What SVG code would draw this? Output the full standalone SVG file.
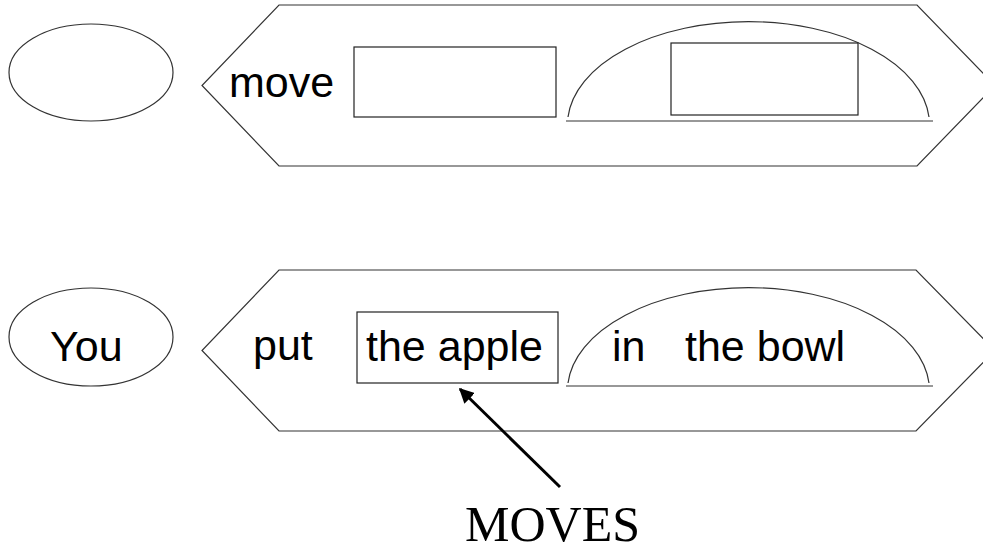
<svg xmlns="http://www.w3.org/2000/svg" width="983" height="551" viewBox="0 0 983 551">
<defs>
<style>
.sh{fill:none;stroke:#333;stroke-width:1.2}
.bx{fill:none;stroke:#222;stroke-width:1.2}
.t{font-family:"Liberation Sans",Arial,sans-serif;font-size:43px;fill:#000}
.m{font-family:"Liberation Serif","Times New Roman",serif;font-size:50px;fill:#000}
</style>
<marker id="ah" viewBox="0 0 10 10" refX="9" refY="5" markerWidth="5" markerHeight="5" orient="auto" markerUnits="strokeWidth">
<path d="M0,0 L10,5 L0,10 Z" fill="#000"/>
</marker>
</defs>
<rect width="983" height="551" fill="#fff"/>
<g id="subject-top"><ellipse class="sh" cx="91" cy="72.5" rx="82" ry="48.5"/></g>
<g id="predicate-top">
<polygon class="sh" points="279,5 917,5 995,85.5 917,166 279,166 202,85.5"/>
<text class="t" x="229" y="97">move</text>
</g>
<g id="object-top"><rect class="bx" x="354" y="47" width="202" height="70"/></g>
<g id="location-top">
<path class="sh" d="M568,117 A181,103 0 0 1 929,117"/>
<line class="sh" x1="566" y1="121" x2="933" y2="121"/>
<rect class="bx" x="671" y="43" width="187" height="72"/>
</g>
<g id="subject-bottom">
<ellipse class="sh" cx="91" cy="337" rx="82" ry="49"/>
<text class="t" x="50" y="361">You</text>
</g>
<g id="predicate-bottom">
<polygon class="sh" points="279,270 916,270 995,350.5 916,431 279,431 202,350.5"/>
<text class="t" x="253" y="360">put</text>
</g>
<g id="object-bottom">
<rect class="bx" x="357" y="312" width="201" height="71"/>
<text class="t" x="366" y="361">the apple</text>
</g>
<g id="location-bottom">
<path class="sh" d="M568,383 A181,103 0 0 1 929,383"/>
<line class="sh" x1="566" y1="386" x2="933" y2="386"/>
<text class="t" x="612" y="361">in</text>
<text class="t" x="685" y="361">the bowl</text>
</g>
<g id="label-moves"><text class="m" x="465" y="541">MOVES</text></g>
<g id="connectors">
<line x1="560" y1="487" x2="460" y2="389" stroke="#000" stroke-width="3" marker-end="url(#ah)"/>
</g>
</svg>
